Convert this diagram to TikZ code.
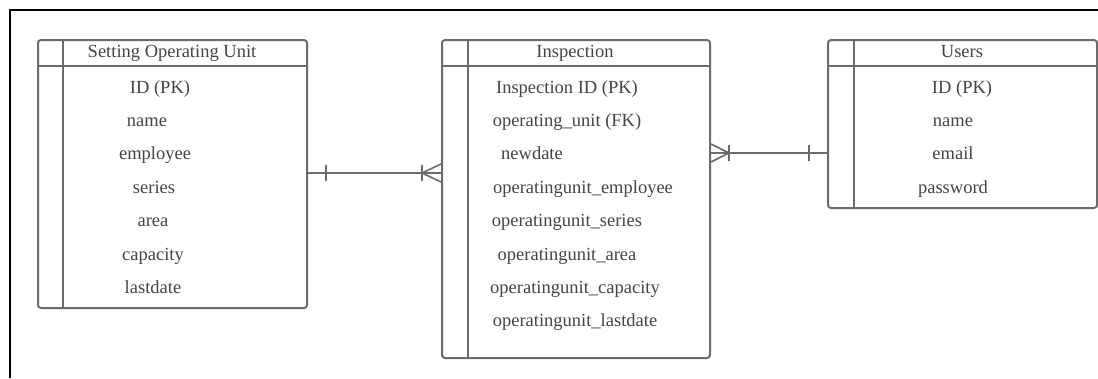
\documentclass[tikz,border=0pt]{standalone}
\usepackage{fontspec}
\setmainfont{Liberation Serif}
\usepackage{tikz}
\usetikzlibrary{calc, positioning}
\definecolor{erline}{HTML}{6b6b6b}
\definecolor{ertext}{HTML}{444444}

\begin{document}
\begin{tikzpicture}[
    x=1pt, y=-1pt,
    table/.style={draw=erline, line width=2pt, rounded corners=3pt, anchor=north west, inner sep=0pt},
    title/.style={text=ertext, font=\fontsize{18.5}{20}\selectfont, inner sep=0pt, text height=13pt, text depth=4pt},
    field/.style={text=ertext, font=\fontsize{18.5}{20}\selectfont, inner sep=0pt, text height=13pt, text depth=4pt},
    rule/.style={draw=erline, line width=2pt},
    link/.style={draw=erline, line width=1.6pt}
]
\useasboundingbox (0,0) rectangle (1098,378);

% page frame
\draw[line width=2pt] (1098,10) -- (10,10) -- (10,378);

% Setting Operating Unit
\node[table, minimum width=269pt, minimum height=268pt] (unit) at (37,39) {};
\draw[rule] ($(unit.north west)+(0,27)$) -- ($(unit.north east)+(0,27)$);
\draw[rule] ($(unit.north west)+(26,0)$) -- ($(unit.south west)+(26,0)$);
\node[title] (unit-title) at (172,53) {Setting Operating Unit};
\foreach \fx/\ft [count=\i] in {160/ID (PK), 147/name, 155/employee, 154/series, 153/area, 153/capacity, 153/lastdate}
  \node[field] (unit-\i) at (\fx,{88.5+33.4*(\i-1)}) {\ft};

% Inspection
\node[table, minimum width=268pt, minimum height=318pt] (insp) at (441,39) {};
\draw[rule] ($(insp.north west)+(0,27)$) -- ($(insp.north east)+(0,27)$);
\draw[rule] ($(insp.north west)+(27,0)$) -- ($(insp.south west)+(27,0)$);
\node[title] (insp-title) at (575,53) {Inspection};
\foreach \fx/\ft [count=\i] in {567/Inspection ID (PK), 567/operating\_unit (FK), 532/newdate, 583/operatingunit\_employee, 567/operatingunit\_series, 567/operatingunit\_area, 575/operatingunit\_capacity, 575/operatingunit\_lastdate}
  \node[field] (insp-\i) at (\fx,{88.5+33.4*(\i-1)}) {\ft};

% Users
\node[table, minimum width=269pt, minimum height=168pt] (users) at (827,39) {};
\draw[rule] ($(users.north west)+(0,27)$) -- ($(users.north east)+(0,27)$);
\draw[rule] ($(users.north west)+(27,0)$) -- ($(users.south west)+(27,0)$);
\node[title] (users-title) at (962,53) {Users};
\foreach \fx/\ft [count=\i] in {962/ID (PK), 953/name, 953/email, 953/password}
  \node[field] (users-\i) at (\fx,{88.5+33.4*(\i-1)}) {\ft};

% unit (one) -- inspection (many)
\coordinate (a1) at (unit.east |- 0,173);
\coordinate (a2) at (insp.west |- 0,173);
\draw[link] (a1) -- (a2);
\draw[link] ($(a1)+(18,-8)$) -- ($(a1)+(18,8)$);
\draw[link] ($(a2)+(-19,-8)$) -- ($(a2)+(-19,8)$);
\draw[link] ($(a2)+(0,-9)$) -- ($(a2)+(-19,0)$) -- ($(a2)+(0,9)$);

% inspection (many) -- users (one)
\coordinate (b1) at (insp.east |- 0,153);
\coordinate (b2) at (users.west |- 0,153);
\draw[link] (b1) -- (b2);
\draw[link] ($(b1)+(0,-9)$) -- ($(b1)+(18,0)$) -- ($(b1)+(0,9)$);
\draw[link] ($(b1)+(18,-8)$) -- ($(b1)+(18,8)$);
\draw[link] ($(b2)+(-18,-8)$) -- ($(b2)+(-18,8)$);
\end{tikzpicture}
\end{document}
